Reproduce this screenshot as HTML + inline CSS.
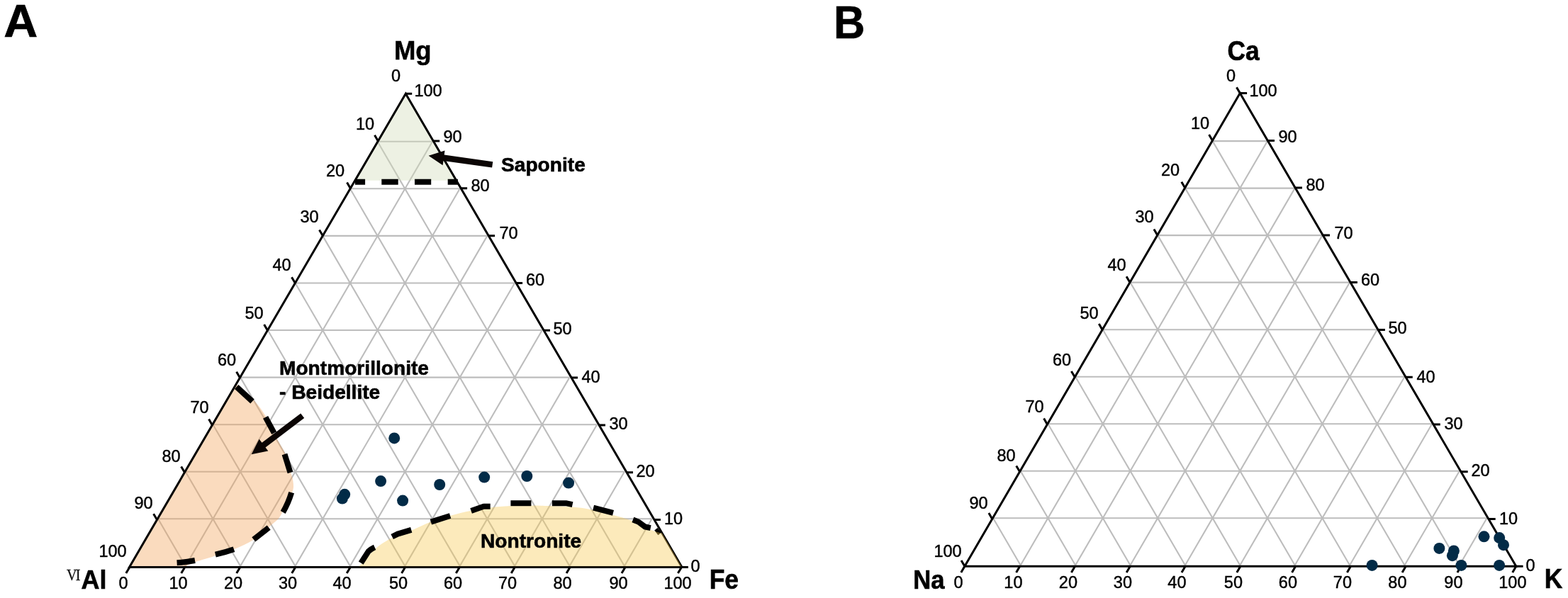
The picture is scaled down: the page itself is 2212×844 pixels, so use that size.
<!DOCTYPE html>
<html lang="en"><head><meta charset="utf-8"><title>Ternary diagrams</title>
<style>
html,body{margin:0;padding:0;background:#fff;}
body{width:2212px;height:844px;overflow:hidden;}
svg{display:block;}
text{font-family:"Liberation Sans",sans-serif;fill:#000;}
.grid{fill:none;stroke:#bdbdbd;stroke-width:2.1;}
.axis{fill:none;stroke:#000;stroke-width:3.0;stroke-linejoin:miter;}
.tick{fill:none;stroke:#000;stroke-width:3.0;}
.dash{fill:none;stroke:#000;stroke-width:8.0;stroke-linecap:butt;stroke-linejoin:round;}
.arrow{fill:#0b0504;stroke:none;}
.dot{fill:#022b47;}
.tl{font-size:23.5px;stroke:#000;stroke-width:0.45px;}
.ax{font-size:36.5px;font-weight:bold;stroke:#000;stroke-width:0.6px;}
.pl{font-size:63px;font-weight:bold;stroke:#000;stroke-width:0.6px;}
.an{font-size:28px;font-weight:bold;stroke:#000;stroke-width:0.6px;}
.sup{font-family:"Liberation Serif",serif;font-size:23.7px;fill:#111;letter-spacing:-2px;stroke:#111;stroke-width:0.3px;}
</style></head><body>
<svg width="2212" height="844" viewBox="0 0 2212 844">
<rect width="2212" height="844" fill="#fff"/>
<g id="panel-a">
<path class="grid" d="M223 732.3L919.6 732.3M261.7 798.9L610 199.8M261.7 798.9L223 732.3M261.7 665.8L880.9 665.8M339.1 798.9L648.7 266.3M339.1 798.9L261.7 665.8M300.4 599.2L842.2 599.2M416.5 798.9L687.4 332.9M416.5 798.9L300.4 599.2M339.1 532.6L803.5 532.6M493.9 798.9L726.1 399.5M493.9 798.9L339.1 532.6M377.8 466L764.8 466M571.3 798.9L764.8 466M571.3 798.9L377.8 466M416.5 399.5L726.1 399.5M648.7 798.9L803.5 532.6M648.7 798.9L416.5 399.5M455.2 332.9L687.4 332.9M726.1 798.9L842.2 599.2M726.1 798.9L455.2 332.9M493.9 266.3L648.7 266.3M803.5 798.9L880.9 665.8M803.5 798.9L493.9 266.3M532.6 199.8L610 199.8M880.9 798.9L919.6 732.3M880.9 798.9L532.6 199.8"/>
<path d="M572.3 132.2L500.8 254.8L643.8 254.8Z" fill="#d2dcb9" fill-opacity="0.4"/>
<path d="M182.5 800.4L333.5 542C337.6 545.8 350.9 557.1 357.8 564.6C364.7 572.1 370.2 579.9 374.6 587C379 594.1 380.8 601.2 383.9 607.4C387 613.6 390.1 618.5 393.2 624.1C396.3 629.7 399.7 634.1 402.5 640.9C405.3 647.7 408 658.2 409.9 665.1C411.8 672 413.4 677.3 413.8 682.3C414.2 687.3 414.2 689.4 412.2 695C410.1 700.6 404.5 710.1 401.5 716C398.5 721.9 397.3 726.2 394 730.5C390.7 734.8 387.2 737 381.5 742C375.8 747 368 755.1 359.7 760.5C351.4 765.9 341.4 770.4 331.8 774.5C322.2 778.6 311.3 781.9 302 785C292.7 788.1 282.7 790.6 276 793C269.3 795.4 264.3 798.2 262 799.2Z" fill="#f2a55c" fill-opacity="0.4"/>
<path class="axis" d="M182.5 800.4L962 800.4L572.3 132.2Z"/>
<path class="tick" d="M182.9 800.4L177.8 809.1M260.8 800.4L255.7 809.1M338.8 800.4L333.7 809.1M416.8 800.4L411.7 809.1M494.3 800.4L489.2 809.1M571.6 800.4L566.6 809.1M648.4 800.4L643.3 809.1M726.2 800.4L721.2 809.1M804.2 800.4L799.1 809.1M882.1 800.4L877 809.1M961.5 800.4L956.4 809.1M962 800.4L970.9 800.4M923 733.6L931.9 733.6M884.1 666.8L893 666.8M845.1 599.9L854 599.9M806.1 533.1L815 533.1M767.1 466.3L776 466.3M728.2 399.5L737.1 399.5M689.2 332.7L698.1 332.7M650.2 265.8L659.1 265.8M611.3 199L620.2 199M572.3 132.2L581.2 132.2M221.5 733.6L216.6 725.3M260.5 666.8L255.6 658.5M299.4 599.9L294.6 591.6M338.4 533.1L333.6 524.8M377.4 466.3L372.6 458M416.4 399.5L411.5 391.2M455.4 332.7L450.5 324.4M494.3 265.8L489.5 257.5M533.3 199L528.5 190.7"/>
<path class="dash" style="stroke-width:5.6px" d="M925.4 746.8L930.6 753.4"/>
<path d="M506.5 799.2C507.6 798.1 509.3 796.6 513.3 792.4C517.3 788.2 523.8 779.2 530.3 773.8C536.8 768.4 543.2 764.2 552 759.8C560.8 755.4 573.8 751.3 583.1 747.4C592.4 743.5 599 740 608 736.6C617 733.2 628.1 729.8 637.4 727.2C646.7 724.6 654.8 722.8 663.8 721C672.8 719.2 682.4 717.6 691.7 716.4C701 715.2 710 714.5 719.7 714C729.5 713.5 740.7 713.6 750.2 713.6C759.7 713.6 767 713.7 776.6 714C786.2 714.3 797.8 714.7 807.6 715.6C817.4 716.5 826.2 717.7 835.5 719.5C844.8 721.3 854.2 723.9 863.5 726.5C872.8 729.1 883.9 732 891.4 735C898.9 738 902.8 741.7 908.5 744.3C914.2 746.9 921.2 749.1 925.5 750.5C929.8 751.9 932.6 752.2 934.1 752.5L961.3 799.2Z" fill="#f7ca55" fill-opacity="0.4"/>
<path class="dash" d="M500.9 256.7H515.1M538.3 256.7H561.7M585 256.7H608.2M631.7 256.7H645.9"/>
<path class="dash" d="M333.7 546L356 566.5"/>
<path class="dash" d="M374.6 588.8L386.7 611.1"/>
<path class="dash" d="M401.5 641L409.5 667"/>
<path class="dash" d="M411.2 695.2Q406.8 710 399.2 723"/>
<path class="dash" d="M379.2 744.6Q368 753.5 357.8 761.4"/>
<path class="dash" d="M330 775.3Q318 779.5 303.9 782.7"/>
<path class="dash" d="M275 791Q262 793.5 249.6 794.3"/>
<path class="dash" d="M509.2 794.6L519.8 778.2Q523 775 528.6 772.4"/>
<path class="dash" d="M553.2 757.5L561 753.6L580.2 747.8"/>
<path class="dash" d="M607.9 736.6L635.1 728"/>
<path class="dash" d="M664.6 721L682.4 714.8H691.7"/>
<path class="dash" d="M720.4 710.2H749.4"/>
<path class="dash" d="M778.9 710.2H798.3L807.6 712.2"/>
<path class="dash" d="M837.1 716.7L865 723.8"/>
<path class="dash" d="M892.9 733.5L900.7 736.6L910 743.5L917.8 745.1"/>
<circle class="dot" cx="556.2" cy="618.4" r="8.0"/>
<circle class="dot" cx="537.1" cy="679.1" r="8.0"/>
<circle class="dot" cx="486.2" cy="697.8" r="8.0"/>
<circle class="dot" cx="482.9" cy="703.6" r="8.0"/>
<circle class="dot" cx="568.1" cy="706.6" r="8.0"/>
<circle class="dot" cx="620.2" cy="684" r="8.0"/>
<circle class="dot" cx="683.2" cy="673.6" r="8.0"/>
<circle class="dot" cx="743.3" cy="672" r="8.0"/>
<circle class="dot" cx="802.1" cy="681.6" r="8.0"/>
<path class="arrow" d="M695.3 228.2L626.7 218.6L627.5 212.4L604.6 219.8L624.6 233.2L625.5 227L694.1 236.6Z"/>
<path class="arrow" d="M424.2 583.4L369.5 624.8L365.6 619.8L354.7 641.3L378.3 636.6L374.5 631.5L429.2 590Z"/>
<text class="pl" transform="translate(29.2 52) scale(1.055 1.04)" text-anchor="middle">A</text>
<text class="ax" transform="translate(555.9 84.4) scale(1 1.03)">Mg</text>
<text class="ax" transform="translate(114.6 830.9) scale(0.985 1.03)">Al</text>
<text class="ax" transform="translate(1000.7 830.9) scale(0.971 1.06)">Fe</text>
<text class="sup" transform="translate(94 818.8) scale(0.85 1.0)">VI</text>
<text class="an" transform="translate(707 242) scale(1.005 1.0)">Saponite</text>
<text class="an" transform="translate(394 529) scale(1.005 1.0)">Montmorillonite</text>
<text class="an" transform="translate(394 563.1) scale(1.005 1.0)">- Beidellite</text>
<text class="an" transform="translate(678 773) scale(1.005 1.0)">Nontronite</text>
<text class="tl" x="558.5" y="114.7" text-anchor="middle">0</text>
<text class="tl" x="515" y="183.2" text-anchor="middle">10</text>
<text class="tl" x="473" y="248.7" text-anchor="middle">20</text>
<text class="tl" x="436.5" y="314.2" text-anchor="middle">30</text>
<text class="tl" x="397.5" y="382.2" text-anchor="middle">40</text>
<text class="tl" x="358.5" y="450.2" text-anchor="middle">50</text>
<text class="tl" x="320" y="516.2" text-anchor="middle">60</text>
<text class="tl" x="281.5" y="582.7" text-anchor="middle">70</text>
<text class="tl" x="241.5" y="651.7" text-anchor="middle">80</text>
<text class="tl" x="202.5" y="718.2" text-anchor="middle">90</text>
<text class="tl" x="159" y="786.2" text-anchor="middle">100</text>
<text class="tl" x="584.4" y="135.7">100</text>
<text class="tl" x="625.4" y="201.2">90</text>
<text class="tl" x="664.4" y="269.7">80</text>
<text class="tl" x="704.4" y="337.2">70</text>
<text class="tl" x="741.9" y="403.2">60</text>
<text class="tl" x="780.4" y="471.7">50</text>
<text class="tl" x="820.4" y="540.2">40</text>
<text class="tl" x="859.4" y="606.2">30</text>
<text class="tl" x="897.4" y="672.7">20</text>
<text class="tl" x="936.9" y="740.2">10</text>
<text class="tl" x="974.4" y="806.7">0</text>
<text class="tl" x="174.1" y="830.7" text-anchor="middle">0</text>
<text class="tl" x="251.5" y="830.7" text-anchor="middle">10</text>
<text class="tl" x="329" y="830.7" text-anchor="middle">20</text>
<text class="tl" x="406" y="830.7" text-anchor="middle">30</text>
<text class="tl" x="482.5" y="830.7" text-anchor="middle">40</text>
<text class="tl" x="562" y="830.7" text-anchor="middle">50</text>
<text class="tl" x="639" y="830.7" text-anchor="middle">60</text>
<text class="tl" x="716" y="830.7" text-anchor="middle">70</text>
<text class="tl" x="793.5" y="830.7" text-anchor="middle">80</text>
<text class="tl" x="872.5" y="830.7" text-anchor="middle">90</text>
<text class="tl" x="956" y="830.7" text-anchor="middle">100</text>
</g>
<g id="panel-b">
<path class="grid" d="M1401 731.2L2097.6 731.2M1439.7 797.7L1788 199.1M1439.7 797.7L1401 731.2M1439.7 664.7L2058.9 664.7M1517.1 797.7L1826.7 265.6M1517.1 797.7L1439.7 664.7M1478.4 598.2L2020.2 598.2M1594.5 797.7L1865.4 332.1M1594.5 797.7L1478.4 598.2M1517.1 531.7L1981.5 531.7M1671.9 797.7L1904.1 398.6M1671.9 797.7L1517.1 531.7M1555.8 465.2L1942.8 465.2M1749.3 797.7L1942.8 465.2M1749.3 797.7L1555.8 465.2M1594.5 398.6L1904.1 398.6M1826.7 797.7L1981.5 531.7M1826.7 797.7L1594.5 398.6M1633.2 332.1L1865.4 332.1M1904.1 797.7L2020.2 598.2M1904.1 797.7L1633.2 332.1M1671.9 265.6L1826.7 265.6M1981.5 797.7L2058.9 664.7M1981.5 797.7L1671.9 265.6M1710.6 199.1L1788 199.1M2058.9 797.7L2097.6 731.2M2058.9 797.7L1710.6 199.1"/>
<path class="axis" d="M1360.9 799.2L2138.8 799.2L1749.3 131.6Z"/>
<path class="tick" d="M1360.9 799.2L1355.8 807.9M1438.7 799.2L1433.6 807.9M1516.5 799.2L1511.4 807.9M1594.3 799.2L1589.2 807.9M1672.1 799.2L1667 807.9M1749.9 799.2L1744.8 807.9M1827.6 799.2L1822.6 807.9M1905.4 799.2L1900.4 807.9M1983.2 799.2L1978.1 807.9M2061 799.2L2055.9 807.9M2138.8 799.2L2133.7 807.9M2138.8 799.2L2148.6 799.2M2099.9 732.4L2109.7 732.4M2060.9 665.7L2070.7 665.7M2022 598.9L2031.8 598.9M1983 532.2L1992.8 532.2M1944.1 465.4L1953.9 465.4M1905.1 398.6L1914.9 398.6M1866.2 331.9L1876 331.9M1827.2 265.1L1837 265.1M1788.2 198.4L1798 198.4M1749.3 131.6L1759.1 131.6M1360.9 799.2L1356.1 790.9M1399.7 732.4L1394.9 724.1M1438.6 665.7L1433.7 657.4M1477.4 598.9L1472.6 590.6M1516.3 532.2L1511.4 523.9M1555.1 465.4L1550.3 457.1M1593.9 398.6L1589.1 390.3M1632.8 331.9L1627.9 323.6M1671.6 265.1L1666.8 256.8M1710.5 198.4L1705.6 190.1M1749.3 131.6L1744.5 123.3"/>
<circle class="dot" cx="1935.6" cy="797.9" r="8.0"/>
<circle class="dot" cx="2030.4" cy="773.9" r="8.0"/>
<circle class="dot" cx="2050.9" cy="777.5" r="8.0"/>
<circle class="dot" cx="2048.9" cy="784.2" r="8.0"/>
<circle class="dot" cx="2061.4" cy="797.9" r="8.0"/>
<circle class="dot" cx="2093.5" cy="757.3" r="8.0"/>
<circle class="dot" cx="2115.2" cy="759.1" r="8.0"/>
<circle class="dot" cx="2121" cy="769.2" r="8.0"/>
<circle class="dot" cx="2115.1" cy="797.9" r="8.0"/>
<text class="pl" transform="translate(1176 53.9) scale(0.975 1.04)">B</text>
<text class="ax" transform="translate(1731.6 85.4) scale(0.967 1.06)">Ca</text>
<text class="ax" transform="translate(1288.2 830.8) scale(0.95 1.03)">Na</text>
<text class="ax" transform="translate(2178.8 829.9) scale(0.97 1.05)">K</text>
<text class="tl" x="1736.5" y="115.1" text-anchor="middle">0</text>
<text class="tl" x="1693" y="182.1" text-anchor="middle">10</text>
<text class="tl" x="1651" y="247.8" text-anchor="middle">20</text>
<text class="tl" x="1614.5" y="313.8" text-anchor="middle">30</text>
<text class="tl" x="1575.5" y="381.8" text-anchor="middle">40</text>
<text class="tl" x="1536.5" y="449.8" text-anchor="middle">50</text>
<text class="tl" x="1498" y="515.8" text-anchor="middle">60</text>
<text class="tl" x="1459.5" y="582.3" text-anchor="middle">70</text>
<text class="tl" x="1419.5" y="651.3" text-anchor="middle">80</text>
<text class="tl" x="1380.5" y="717.8" text-anchor="middle">90</text>
<text class="tl" x="1337" y="785.8" text-anchor="middle">100</text>
<text class="tl" x="1762.4" y="136">100</text>
<text class="tl" x="1803.4" y="200.5">90</text>
<text class="tl" x="1842.4" y="269">80</text>
<text class="tl" x="1882.4" y="336.5">70</text>
<text class="tl" x="1919.9" y="402.5">60</text>
<text class="tl" x="1958.4" y="471">50</text>
<text class="tl" x="1998.4" y="539.5">40</text>
<text class="tl" x="2037.4" y="605.5">30</text>
<text class="tl" x="2075.4" y="672">20</text>
<text class="tl" x="2114.9" y="739.5">10</text>
<text class="tl" x="2152.4" y="806">0</text>
<text class="tl" x="1352" y="829.7" text-anchor="middle">0</text>
<text class="tl" x="1429.4" y="829.7" text-anchor="middle">10</text>
<text class="tl" x="1506.9" y="829.7" text-anchor="middle">20</text>
<text class="tl" x="1583.9" y="829.7" text-anchor="middle">30</text>
<text class="tl" x="1660.4" y="829.7" text-anchor="middle">40</text>
<text class="tl" x="1739.9" y="829.7" text-anchor="middle">50</text>
<text class="tl" x="1816.9" y="829.7" text-anchor="middle">60</text>
<text class="tl" x="1893.9" y="829.7" text-anchor="middle">70</text>
<text class="tl" x="1971.4" y="829.7" text-anchor="middle">80</text>
<text class="tl" x="2050.4" y="829.7" text-anchor="middle">90</text>
<text class="tl" x="2133.9" y="829.7" text-anchor="middle">100</text>
</g>
</svg></body></html>
